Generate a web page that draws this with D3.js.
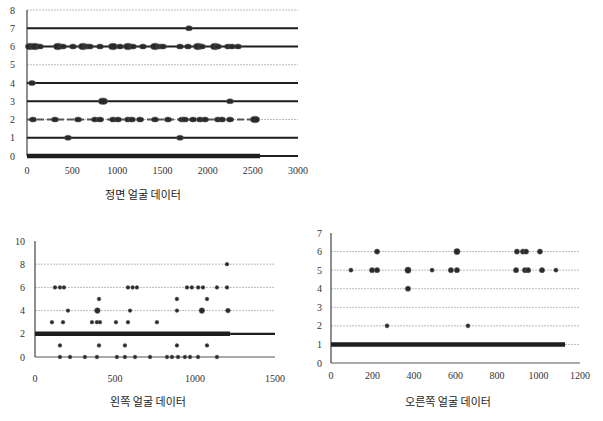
<!DOCTYPE html>
<meta charset="utf-8">
<style>
body { margin: 0; background: #fff; }
.tick-label { font-family: "Liberation Serif", serif; font-size: 10px; fill: #333; }
.title { font-family: "Noto Sans CJK KR", sans-serif; font-size: 11px; fill: #222; }
</style>
<body>
<script src="https://d3js.org/d3.v7.min.js"></script>
<script>
// ---- front face data (정면) ----
var frontXTicks = [0, 500, 1000, 1500, 2000, 2500, 3000];
var frontYTicks = [0, 1, 2, 3, 4, 5, 6, 7, 8];
var frontGrid = [1, 2, 3, 4, 5, 6, 7, 8];
// dense runs: [row, from, to, kind]
var frontRuns = [
  [0, 0, 2580, "heavy"], [0, 2580, 3000, "solid"],
  [1, 0, 3000, "solid"], [2, 0, 2524, "broken"], [3, 0, 3000, "solid"],
  [4, 0, 3000, "solid"], [6, 0, 3000, "solid"], [7, 0, 3000, "solid"]
];
var frontPoints = [
  [33,6,2],[89,6,2],[144,6,1],[343,6,2],[399,6,1],[509,6,1],[620,6,2],[664,6,1],[697,6,1],
  [808,6,1],[952,6,2],[1030,6,1],[1118,6,2],[1173,6,1],[1284,6,1],[1417,6,2],[1472,6,1],
  [1505,6,1],[1694,6,1],[1782,6,1],[1893,6,2],[1937,6,1],[2081,6,2],[2114,6,1],[2225,6,1],
  [2269,6,1],[2336,6,1],
  [1793,7,1],[55,4,1],[841,3,2],[2247,3,1],[454,1,1],[1694,1,1],
  [66,2,1],[310,2,1],[565,2,1],[753,2,1],[808,2,1],[952,2,1],[1007,2,1],[1118,2,1],[1162,2,1],
  [1251,2,1],[1417,2,1],[1561,2,1],[1716,2,1],[1749,2,1],[1838,2,1],[1915,2,1],[1971,2,1],
  [2114,2,1],[2159,2,1],[2247,2,1],[2524,2,2]
];

// ---- left face data (왼쪽) ----
var leftXTicks = [0, 500, 1000, 1500];
var leftYTicks = [0, 2, 4, 6, 8, 10];
var leftGrid = [2, 4, 6, 8];
var leftRuns = [[2, 0, 1220, "heavy"], [2, 1220, 1500, "solid"]];
var leftPoints = [
  [1200,8,1],
  [125,6,1],[156,6,1],[181,6,1],[581,6,1],[610,6,1],[637,6,1],[950,6,1],[980,6,1],
  [1020,6,1],[1050,6,1],[1137,6,1],[1200,6,1],
  [400,5,1],[887,5,1],[1075,5,1],
  [206,4,1],[390,4,3],[594,4,1],[887,4,1],[1043,4,3],[1206,4,2],
  [106,3,1],[175,3,1],[356,3,1],[387,3,1],[406,3,1],[506,3,1],[581,3,1],[762,3,1],
  [156,1,1],[400,1,1],[562,1,1],[887,1,1],[1075,1,1],
  [156,0,1],[219,0,1],[312,0,1],[387,0,1],[512,0,1],[562,0,1],[625,0,1],[719,0,1],
  [825,0,1],[856,0,1],[894,0,1],[937,0,1],[969,0,1],[1019,0,1],[1137,0,1]
];

// ---- right face data (오른쪽) ----
var rightXTicks = [0, 200, 400, 600, 800, 1000, 1200];
var rightYTicks = [0, 1, 2, 3, 4, 5, 6, 7];
var rightGrid = [1, 2, 3, 4, 5, 6];
var rightRuns = [[1, 0, 1128, "heavy"]];
var rightPoints = [
  [222,6,2],[607,6,3],[896,6,2],[925,6,2],[940,6,2],[1007,6,2],
  [96,5,1],[198,5,2],[222,5,2],[371,5,3],[487,5,1],[578,5,2],[607,5,2],[892,5,2],
  [935,5,2],[950,5,2],[1017,5,2],[1084,5,1],
  [371,4,2],[270,2,1],[660,2,1]
];

var titles = ["정면 얼굴 데이터", "왼쪽 얼굴 데이터", "오른쪽 얼굴 데이터"];

var svg = d3.select("body").append("svg")
    .attr("width", 603)
    .attr("height", 421);

function drawChart(cfg) {
  var x = d3.scaleLinear().domain(cfg.xDomain).range(cfg.xRange);
  var y = d3.scaleLinear().domain(cfg.yDomain).range(cfg.yRange);
  var g = svg.append("g");

  // light grid rows
  g.selectAll(".grid").data(cfg.grid).enter().append("line")
      .attr("x1", x(cfg.xDomain[0])).attr("x2", x(cfg.xDomain[1]))
      .attr("y1", d => y(d)).attr("y2", d => y(d))
      .attr("stroke", "#bcbcbc").attr("stroke-width", 1)
      .attr("stroke-dasharray", "2,1");

  // x axis line (row 0) and y axis
  g.append("line")
      .attr("x1", x(cfg.xDomain[0])).attr("x2", x(cfg.xDomain[1]))
      .attr("y1", y(0)).attr("y2", y(0))
      .attr("stroke", "#555").attr("stroke-width", 1.2);
  g.append("line")
      .attr("x1", x(0)).attr("x2", x(0))
      .attr("y1", y(cfg.yDomain[1])).attr("y2", y(0))
      .attr("stroke", "#444").attr("stroke-width", 1.2);

  // dense runs of overlapping points
  var widths = {heavy: 4.5, solid: 2.2, broken: 2};
  g.selectAll(".run").data(cfg.runs).enter().append("line")
      .attr("x1", d => x(d[1])).attr("x2", d => x(d[2]))
      .attr("y1", d => y(d[0])).attr("y2", d => y(d[0]))
      .attr("stroke", d => d[3] == "broken" ? "#555" : "#1e1e1e")
      .attr("stroke-width", d => widths[d[3]])
      .attr("stroke-dasharray", d => d[3] == "broken" ? "7,3" : null);

  // individual points (ellipse blobs, bigger where several overlap)
  g.selectAll(".pt").data(cfg.points).enter().append("ellipse")
      .attr("cx", d => x(d[0])).attr("cy", d => y(d[1]))
      .attr("rx", d => cfg.r * cfg.stretch * Math.sqrt(1 + 0.6 * (d[2] - 1)))
      .attr("ry", d => cfg.r * Math.sqrt(1 + 0.6 * (d[2] - 1)))
      .attr("fill", "#2a2a2a")
      .attr("stroke", "#666").attr("stroke-width", 0.5);

  // tick labels
  g.selectAll(".xl").data(cfg.xTicks).enter().append("text")
      .attr("class", "tick-label")
      .attr("x", d => x(d)).attr("y", cfg.xLabelY)
      .attr("text-anchor", "middle")
      .text(d => d);
  g.selectAll(".yl").data(cfg.yTicks).enter().append("text")
      .attr("class", "tick-label")
      .attr("x", x(0) - cfg.yLabelGap).attr("y", d => y(d) + 3.5)
      .attr("text-anchor", "end")
      .text(d => d);

  g.append("text")
      .attr("class", "title")
      .attr("x", cfg.titleX).attr("y", cfg.titleY)
      .attr("text-anchor", "middle")
      .text(cfg.title);
}

drawChart({
  xDomain: [0, 3000], xRange: [27, 298], yDomain: [0, 8], yRange: [156, 10],
  grid: frontGrid, runs: frontRuns, points: frontPoints, xTicks: frontXTicks, yTicks: frontYTicks,
  r: 2.6, stretch: 1.4, xLabelY: 174, yLabelGap: 12,
  title: titles[0], titleX: 143, titleY: 199
});
drawChart({
  xDomain: [0, 1500], xRange: [35, 275], yDomain: [0, 10], yRange: [357, 241],
  grid: leftGrid, runs: leftRuns, points: leftPoints, xTicks: leftXTicks, yTicks: leftYTicks,
  r: 1.9, stretch: 1, xLabelY: 382, yLabelGap: 10,
  title: titles[1], titleX: 148, titleY: 406
});
drawChart({
  xDomain: [0, 1200], xRange: [331, 580], yDomain: [0, 7], yRange: [363, 233],
  grid: rightGrid, runs: rightRuns, points: rightPoints, xTicks: rightXTicks, yTicks: rightYTicks,
  r: 2.1, stretch: 1, xLabelY: 379, yLabelGap: 9,
  title: titles[2], titleX: 448, titleY: 406
});
</script>
</body>
